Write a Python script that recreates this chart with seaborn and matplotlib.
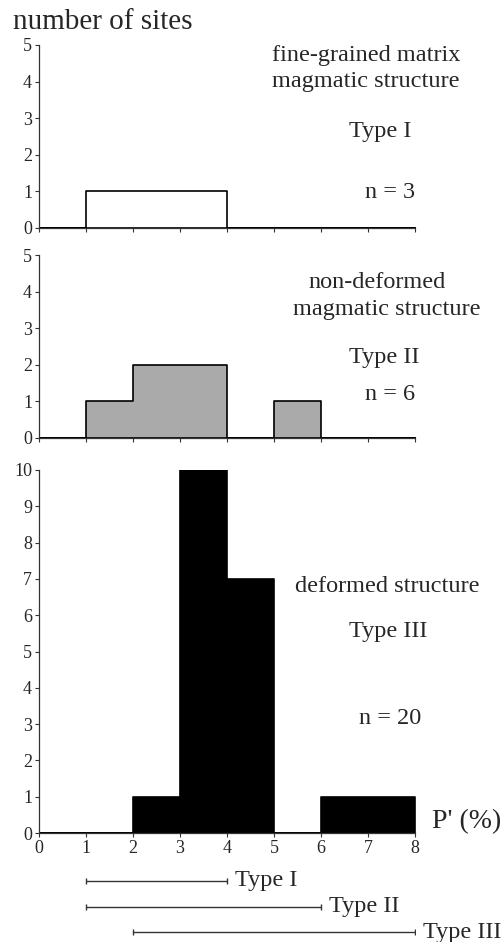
import numpy as np
import pandas as pd
import matplotlib
matplotlib.use("Agg")
import matplotlib.pyplot as plt
import seaborn as sns

# P' (%) classes, 0-1 ... 7-8
bin_edges = [0, 1, 2, 3, 4, 5, 6, 7, 8]
type1_counts = [0, 1, 1, 1, 0, 0, 0, 0]
type2_counts = [0, 1, 2, 2, 0, 1, 0, 0]
type3_counts = [0, 0, 1, 10, 7, 0, 1, 1]

# P' ranges for each type (bottom strip)
range_labels = ["Type I", "Type II", "Type III"]
range_start = [1, 1, 2]
range_end = [4, 6, 8]

sns.set_style("ticks")
plt.rcParams['font.family'] = ['Liberation Serif', 'DejaVu Serif']

fig = plt.figure(figsize=(5.04, 9.42), dpi=100)

left, width = 39 / 504, 376 / 504
ax1 = fig.add_axes([left, 1 - 228 / 942, width, 183 / 942])
ax2 = fig.add_axes([left, 1 - 438 / 942, width, 183 / 942])
ax3 = fig.add_axes([left, 1 - 833 / 942, width, 363 / 942])
ax4 = fig.add_axes([left, 0, width, 72 / 942])

centers = [(a + b) / 2 for a, b in zip(bin_edges[:-1], bin_edges[1:])]
panels = [
    (ax1, type1_counts, "white", 5),
    (ax2, type2_counts, "#aaaaaa", 5),
    (ax3, type3_counts, "black", 10),
]

for ax, counts, fc, ymax in panels:
    df = pd.DataFrame({"p": centers, "n": counts})
    sns.histplot(data=df, x="p", weights="n", bins=bin_edges, element="step",
                 fill=True, facecolor=fc, edgecolor="black", alpha=1,
                 linewidth=1.2, ax=ax)
    ax.set_xlim(0, 8)
    ax.set_ylim(0, ymax)
    ax.set_yticks(range(0, ymax + 1))
    ax.set_xticks(range(0, 9))
    ax.set_xlabel("")
    ax.set_ylabel("")
    sns.despine(ax=ax)
    for s in ["left", "bottom"]:
        ax.spines[s].set_linewidth(0.9)
        ax.spines[s].set_color("#333333")
    ax.tick_params(direction="out", length=3, width=0.8, labelsize=13,
                   pad=2, color="#333333")
    ax.set_facecolor("none")

ax1.set_xticklabels([])
ax2.set_xticklabels([])

fig.text(13 / 504, 1 - 22 / 942, "number of sites", fontsize=21,
         ha="left", va="center")

def txt(x, y, s, size=17.5):
    fig.text(x / 504, 1 - y / 942, s, fontsize=size, ha="center", va="center")

txt(366, 55, "fine-grained matrix")
txt(366, 82, "magmatic structure")
txt(380, 132, "Type I")
txt(390, 192, "n = 3")

txt(377, 283, "non-deformed")
txt(387, 310, "magmatic structure")
txt(384, 357, "Type II")
txt(390, 395, "n = 6")

txt(387, 587, "deformed structure")
txt(388, 632, "Type III")
txt(390, 718, "n = 20")

fig.text(432 / 504, 1 - 822 / 942, "P' (%)", fontsize=20, ha="left", va="center")

# range strip
rows = np.arange(len(range_labels))
ax4.hlines(rows, range_start, range_end, color="#333333", linewidth=1)
ax4.plot(range_start, rows, "|", color="#333333", ms=4, mew=1)
ax4.plot(range_end, rows, "|", color="#333333", ms=4, mew=1)
for r, e, lab in zip(rows, range_end, range_labels):
    ax4.text(e + 0.17, r, lab, fontsize=17.5, ha="left", va="center",
             clip_on=False)
ax4.set_xlim(0, 8)
ax4.set_ylim(2.39, -0.43)
ax4.axis("off")

fig.savefig("out.png", dpi=100)
